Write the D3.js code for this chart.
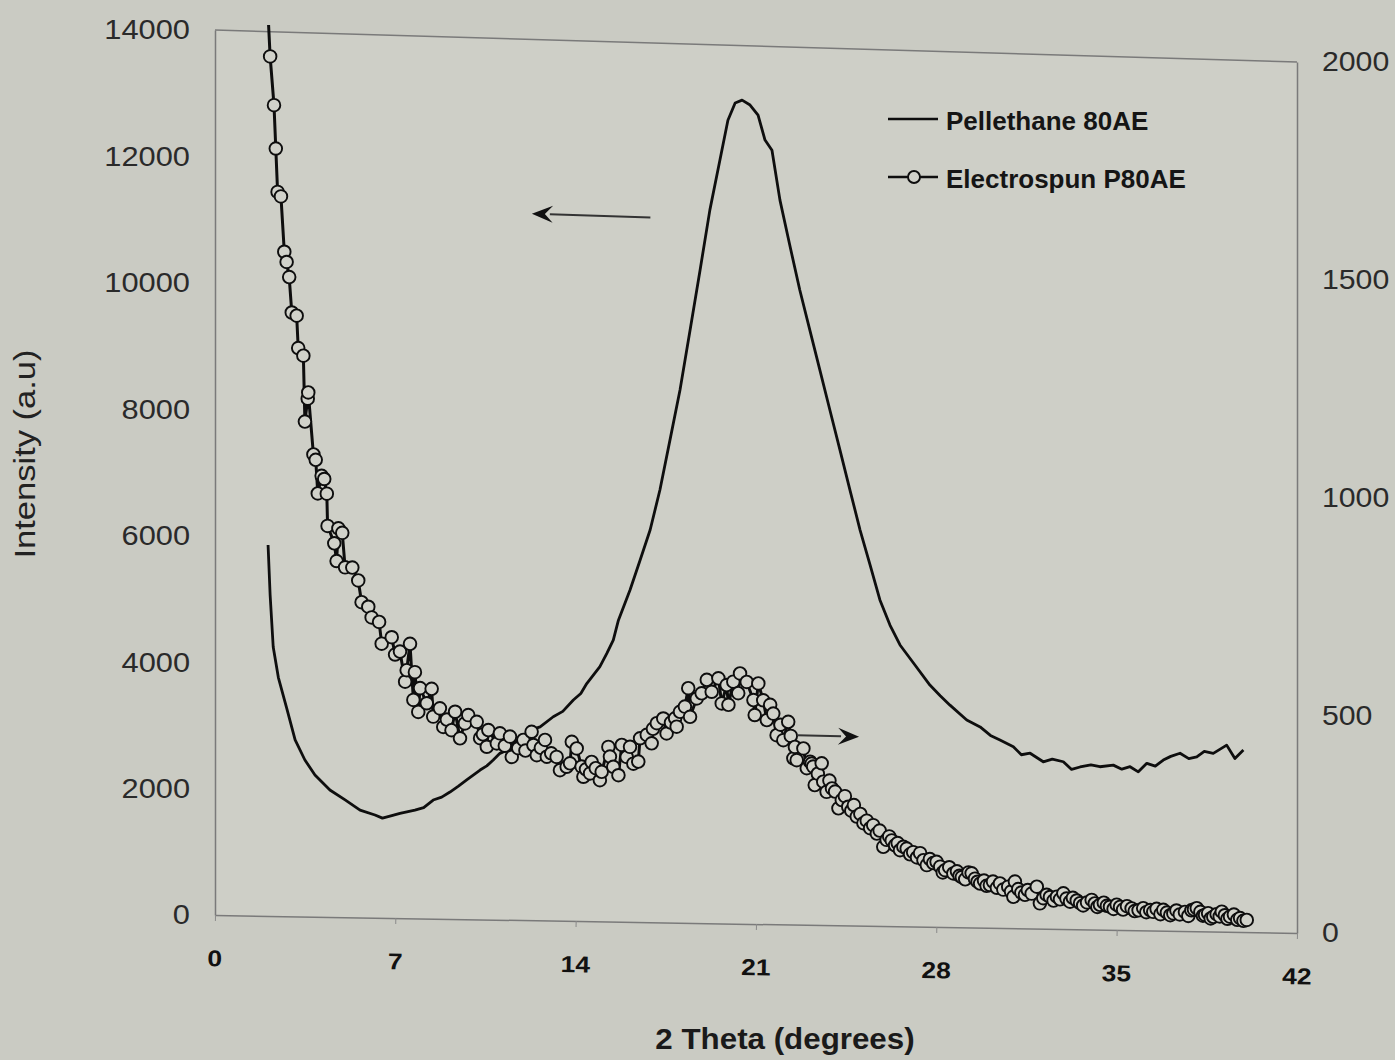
<!DOCTYPE html>
<html>
<head>
<meta charset="utf-8">
<script src="https://cdnjs.cloudflare.com/ajax/libs/d3/7.8.5/d3.min.js"></script>
<style>
  html, body { margin: 0; padding: 0; background: #cacbc3; }
  svg { display: block; font-family: "Liberation Sans", Arial, sans-serif; }
</style>
</head>
<body>
<svg id="chart" width="1395" height="1060"></svg>
<script>
// ---- data ----
const xTicks = [0, 7, 14, 21, 28, 35, 42];
const leftTicks = [0, 2000, 4000, 6000, 8000, 10000, 12000, 14000];
const rightTicks = [0, 500, 1000, 1500, 2000];
const seriesNames = ["Pellethane 80AE", "Electrospun P80AE"];

// Pellethane 80AE (left axis)
const pelTheta = [2.06, 2.14, 2.26, 2.46, 2.78, 3.11, 3.49, 3.88, 4.46, 5.05, 5.63, 6.21, 6.5, 6.79, 7.18, 7.76,
  8.1, 8.47, 8.8, 9.12, 9.45, 9.77, 10.29, 10.55, 10.80, 11.06, 11.35, 11.65, 12.23, 12.62, 13.13, 13.5, 13.91, 14.2, 14.43, 14.94, 15.21, 15.46,
  15.66, 16.11, 16.50, 16.89, 17.27, 17.66, 18.05, 18.44, 18.83, 19.21, 19.60, 19.91, 20.19, 20.46, 20.77,
  21.08, 21.35, 21.62, 21.93, 22.31, 22.70, 23.09, 23.48, 23.87, 24.26, 24.65, 25.04, 25.43, 25.81, 26.20,
  26.59, 27.17, 27.75, 28.15, 28.53, 29.18, 29.70, 30.1, 30.47, 30.99, 31.3, 31.64, 32.15, 32.5, 32.93, 33.25, 33.58, 34.0, 34.35, 34.87, 35.2, 35.52,
  35.84, 36.17, 36.5, 36.81, 37.1, 37.46, 37.8, 38.11, 38.4, 38.75, 39.05, 39.27, 39.59, 39.92];
const pelIntensity = [5872, 5080, 4257, 3777, 3300, 2793, 2479, 2244, 2011, 1858, 1700, 1628, 1580, 1614, 1662, 1717,
  1760, 1882, 1930, 2014, 2110, 2211, 2372, 2440, 2535, 2643, 2700, 2828, 3022, 3076, 3241, 3330, 3514, 3620, 3780, 4052, 4265, 4480,
  4799, 5282, 5760, 6244, 6885, 7683, 8484, 9441, 10406, 11367, 12165, 12803, 13082, 13130, 13056,
  12898, 12505, 12346, 11553, 10840, 10127, 9490, 8858, 8221, 7589, 6950, 6319, 5762, 5209, 4812,
  4497, 4182, 3866, 3700, 3551, 3318, 3212, 3080, 3010, 2906, 2780, 2807, 2674, 2720, 2681, 2560, 2602, 2640, 2612, 2642, 2580, 2622,
  2542, 2681, 2640, 2738, 2800, 2853, 2770, 2800, 2890, 2862, 2940, 2998, 2784, 2923];

// Electrospun P80AE (right axis)
const espTheta = [2.08, 2.14, 2.29, 2.36, 2.43, 2.56, 2.69, 2.78, 2.88, 2.98, 3.17, 3.23, 3.43, 3.49, 3.60,
  3.62, 3.82, 3.91, 3.99, 4.14, 4.24, 4.34, 4.37, 4.63, 4.72, 4.79, 4.94, 5.05, 5.33, 5.56,
  5.69, 5.95, 6.08, 6.37, 6.47, 6.86, 6.99, 7.18, 7.38, 7.44, 7.57, 7.70, 7.76, 7.89, 7.96,
  8.22, 8.41, 8.47, 8.73, 8.86, 9.00, 9.18, 9.32, 9.51, 9.70, 9.83, 10.16, 10.29, 10.40, 10.55, 10.61, 10.94, 11.06,
  11.25, 11.45, 11.52, 11.77, 11.97, 12.05, 12.29, 12.36, 12.49, 12.65, 12.81, 12.88, 13.05, 13.26, 13.39, 13.65, 13.78, 13.85, 14.04,
  14.23, 14.30, 14.40, 14.56, 14.62, 14.78, 14.94, 15.01, 15.27, 15.33, 15.46, 15.66, 15.79, 15.98, 16.11, 16.24, 16.43,
  16.50, 16.76, 16.95, 17.00, 17.15, 17.40, 17.53, 17.70, 17.86, 17.92, 18.05, 18.24, 18.37, 18.44, 18.70, 18.89, 19.09, 19.28,
  19.54, 19.67, 19.86, 19.93, 20.12, 20.31, 20.38, 20.64, 20.90, 20.95, 21.09, 21.28, 21.42, 21.55, 21.67, 21.80,
  21.95, 22.06, 22.25, 22.35, 22.45, 22.51, 22.58, 22.84,
  22.97, 23.10, 23.16, 23.22, 23.28, 23.40, 23.55, 23.61, 23.74, 23.85, 23.95, 24.07, 24.20, 24.33, 24.45, 24.58,
  24.70, 24.80, 24.91, 25.05, 25.17, 25.30, 25.43, 25.55, 25.69, 25.80, 25.94, 26.07, 26.17, 26.27, 26.40, 26.50,
  26.59, 26.72, 26.85, 26.98, 27.10, 27.25, 27.37, 27.50, 27.63, 27.75, 27.88, 28.01, 28.15, 28.25, 28.34, 28.50,
  28.66, 28.80, 28.90, 28.99, 29.12, 29.25, 29.37, 29.50, 29.60, 29.70, 29.85, 29.95, 30.08, 30.20, 30.35, 30.47,
  30.60, 30.79, 30.90, 30.99, 31.05, 31.18, 31.30, 31.44, 31.55, 31.70, 31.90, 32.02, 32.15, 32.28, 32.41, 32.55,
  32.68, 32.80, 32.93, 33.05, 33.19, 33.30, 33.45, 33.58, 33.70, 33.85, 34.03, 34.15, 34.25, 34.35, 34.50, 34.62,
  34.74, 34.88, 35.00, 35.13, 35.25, 35.40, 35.58, 35.70, 35.85, 36.03, 36.15, 36.30, 36.42, 36.55, 36.70, 36.81,
  36.95, 37.08, 37.20, 37.32, 37.45, 37.65, 37.78, 37.90, 38.00, 38.11, 38.25, 38.35, 38.43, 38.55, 38.65, 38.75,
  38.88, 39.00, 39.08, 39.20, 39.30, 39.40, 39.55, 39.68, 39.79, 39.92, 40.05];
const espIntensity = [2015, 1944, 1834, 1736, 1638, 1628, 1503, 1480, 1446, 1366, 1359, 1286, 1269, 1120, 1172,
  1186, 1046, 1034, 958, 998, 991, 958, 885, 846, 806, 880, 870, 792, 792, 763,
  714, 704, 680, 670, 621, 636, 597, 604, 536, 562, 622, 495, 558, 468, 522,
  488, 521, 458, 477, 435, 452, 428, 470, 410, 444, 463, 448, 411, 420, 392, 430, 400, 423,
  395, 416, 370, 390, 409, 385, 428, 398, 375, 392, 410, 372, 380, 372, 342, 350, 358, 407, 392,
  351, 328, 345, 336, 362, 348, 321, 340, 397, 375, 352, 333, 402, 375, 398, 360, 365,
  418, 426, 407, 440, 453, 464, 430, 455, 465, 446, 480, 492, 534, 469, 511, 523, 554, 527,
  558, 501, 543, 498, 551, 525, 570, 551, 510, 476, 548, 510, 465, 500, 480, 431,
  455, 420, 462, 430, 379, 405, 375, 402,
  357, 372, 368, 361, 319, 345, 369, 327, 304, 330, 312, 305, 267, 286, 295, 271,
  262, 275, 249, 255, 234, 240, 223, 230, 211, 218, 181, 197, 205, 196, 185, 190,
  174, 182, 178, 165, 170, 158, 168, 152, 141, 155, 146, 149, 138, 125, 130, 137,
  123, 128, 118, 115, 110, 126, 124, 112, 105, 101, 108, 96, 98, 106, 92, 102,
  88, 95, 84, 72, 107, 90, 82, 77, 88, 80, 96, 58, 70, 78, 73, 65,
  74, 68, 82, 70, 63, 72, 66, 60, 55, 62, 68, 60, 52, 57, 62, 55,
  53, 48, 58, 53, 47, 55, 50, 44, 46, 51, 42, 47, 43, 50, 38, 48,
  42, 36, 40, 47, 38, 44, 35, 48, 50, 53, 45, 36, 38, 42, 30, 34,
  40, 35, 46, 38, 30, 35, 40, 28, 32, 26, 28];

// arrows pointing to the axis each curve belongs to: [theta, value] pairs
const arrowAxes = ["left", "right"];
const arrowFrom = [[16.9, 11220], [22.6, 432]];
const arrowTo = [[12.3, 11230], [25.0, 431]];

// ---- layout: the scanned frame is slightly skewed ----
const TL = [215, 30], TR = [1297, 62], BL = [215, 915], BR = [1297, 933];
const ink = "#0e0e0e";

const svg = d3.select("#chart");

const x = d3.scaleLinear().domain([0, 42]).range([0, 1]);
const yL = d3.scaleLinear().domain([0, 14000]).range([1, 0]);
const yR = d3.scaleLinear().domain([0, 2000]).range([1, 0]);

// bilinear map of the unit square onto the skewed frame
function warp(u, v) {
  const xt = TL[0] + (TR[0] - TL[0]) * u, yt = TL[1] + (TR[1] - TL[1]) * u;
  const xb = BL[0] + (BR[0] - BL[0]) * u, yb = BL[1] + (BR[1] - BL[1]) * u;
  return [xt + (xb - xt) * v, yt + (yb - yt) * v];
}

// plot area fill
svg.append("polygon")
  .attr("points", [TL, TR, BR, BL].map(p => p.join(",")).join(" "))
  .attr("fill", "#cecfc7");

// top border
svg.append("line")
  .attr("x1", TL[0]).attr("y1", TL[1]).attr("x2", TR[0]).attr("y2", TR[1])
  .attr("stroke", "#7a7a7a").attr("stroke-width", 1.5);

// left axis
const sxL = 1.1;
const yLpx = d3.scaleLinear().domain([0, 14000]).range([BL[1], TL[1]]);
const gL = svg.append("g").attr("transform", `translate(${TL[0]},0)`)
  .call(d3.axisLeft(yLpx).tickValues(leftTicks).tickSize(0).tickFormat(d3.format("d")));
gL.selectAll("text")
  .attr("x", -25 / sxL)
  .attr("transform", `scale(${sxL},1)`)
  .attr("font-size", 28).attr("fill", "#2a2a2a")
  .attr("font-family", "Liberation Sans, Arial, sans-serif");

// right axis
const sxR = 1.08;
const yRpx = d3.scaleLinear().domain([0, 2000]).range([BR[1], TR[1]]);
const gR = svg.append("g").attr("transform", `translate(${TR[0]},0)`)
  .call(d3.axisRight(yRpx).tickValues(rightTicks).tickSize(0).tickFormat(d3.format("d")));
gR.selectAll("text")
  .attr("x", 25 / sxR)
  .attr("transform", `scale(${sxR},1)`)
  .attr("font-size", 28).attr("fill", "#2a2a2a")
  .attr("font-family", "Liberation Sans, Arial, sans-serif");

// bottom axis, tilted with the scan
const bLen = Math.hypot(BR[0] - BL[0], BR[1] - BL[1]);
const bAng = Math.atan2(BR[1] - BL[1], BR[0] - BL[0]) * 180 / Math.PI;
const xPx = d3.scaleLinear().domain([0, 42]).range([0, bLen]);
const gB = svg.append("g").attr("transform", `translate(${BL[0]},${BL[1]}) rotate(${bAng})`)
  .call(d3.axisBottom(xPx).tickValues(xTicks).tickSize(6).tickPadding(29).tickSizeOuter(0));
gB.selectAll("text")
  .attr("transform", "scale(1.15,1)")
  .attr("font-size", 23).attr("font-weight", "bold").attr("fill", "#111")
  .attr("font-family", "Liberation Sans, Arial, sans-serif");

[gL, gR, gB].forEach(g => {
  g.select(".domain").attr("stroke", "#7a7a7a").attr("stroke-width", 1.5);
  g.selectAll(".tick line").attr("stroke", "#8a8a8a");
});

// axis titles
svg.append("g").attr("transform", "translate(35,454) rotate(-90) scale(1.19,1)")
  .append("text").attr("text-anchor", "middle")
  .attr("font-size", 29).attr("fill", "#222")
  .text("Intensity (a.u)");
svg.append("g").attr("transform", "translate(785,1049) scale(1.08,1)")
  .append("text").attr("text-anchor", "middle")
  .attr("font-size", 29).attr("font-weight", "bold").attr("fill", "#1a1a1a")
  .text("2 Theta (degrees)");

// series
const pel = pelTheta.map((t, i) => warp(x(t), yL(pelIntensity[i])));
const esp = espTheta.map((t, i) => ({ p: warp(x(t), yR(espIntensity[i])), v: espIntensity[i] }));

const line = d3.line();
svg.append("path")
  .attr("d", line(pel))
  .attr("fill", "none").attr("stroke", ink).attr("stroke-width", 2.8)
  .attr("stroke-linejoin", "round");

svg.append("path")
  .attr("d", line(esp.map(d => d.p)))
  .attr("fill", "none").attr("stroke", ink).attr("stroke-width", 3)
  .attr("stroke-linejoin", "round");

svg.append("g").selectAll("circle")
  .data(esp.filter(d => d.v <= 2000))
  .join("circle")
  .attr("cx", d => d.p[0]).attr("cy", d => d.p[1]).attr("r", 6.3)
  .attr("fill", "#d1d2ca").attr("stroke", ink).attr("stroke-width", 1.9);

// arrows
const arrowScale = { left: yL, right: yR };
arrowAxes.forEach((a, i) => {
  const p0 = warp(x(arrowFrom[i][0]), arrowScale[a](arrowFrom[i][1]));
  const p1 = warp(x(arrowTo[i][0]), arrowScale[a](arrowTo[i][1]));
  const ang = Math.atan2(p1[1] - p0[1], p1[0] - p0[0]);
  const hl = 18, hw = 8.5;
  const base = [p1[0] - hl * Math.cos(ang), p1[1] - hl * Math.sin(ang)];
  svg.append("line")
    .attr("x1", p0[0]).attr("y1", p0[1]).attr("x2", base[0]).attr("y2", base[1])
    .attr("stroke", "#333").attr("stroke-width", 2);
  const nx = -Math.sin(ang), ny = Math.cos(ang);
  const back = [p1[0] - (hl - 5) * Math.cos(ang), p1[1] - (hl - 5) * Math.sin(ang)];
  svg.append("path")
    .attr("d", d3.line()([p1, [base[0] - 3 * Math.cos(ang) + nx * hw, base[1] - 3 * Math.sin(ang) + ny * hw], back,
      [base[0] - 3 * Math.cos(ang) - nx * hw, base[1] - 3 * Math.sin(ang) - ny * hw]]) + "Z")
    .attr("fill", "#111");
});

// legend
const legend = svg.append("g").attr("transform", "translate(888,119)");
seriesNames.forEach((name, i) => {
  const g = legend.append("g").attr("transform", `translate(0,${i * 58})`);
  g.append("line").attr("x1", 0).attr("x2", 50).attr("y1", 0).attr("y2", 0)
    .attr("stroke", ink).attr("stroke-width", 2.6);
  if (i === 1) {
    g.append("circle").attr("cx", 26).attr("cy", 0).attr("r", 6)
      .attr("fill", "#d1d2ca").attr("stroke", ink).attr("stroke-width", 1.9);
  }
  g.append("text").attr("x", 58).attr("y", 11)
    .attr("font-size", 26).attr("font-weight", "bold").attr("fill", "#151515")
    .text(name);
});
</script>
</body>
</html>
